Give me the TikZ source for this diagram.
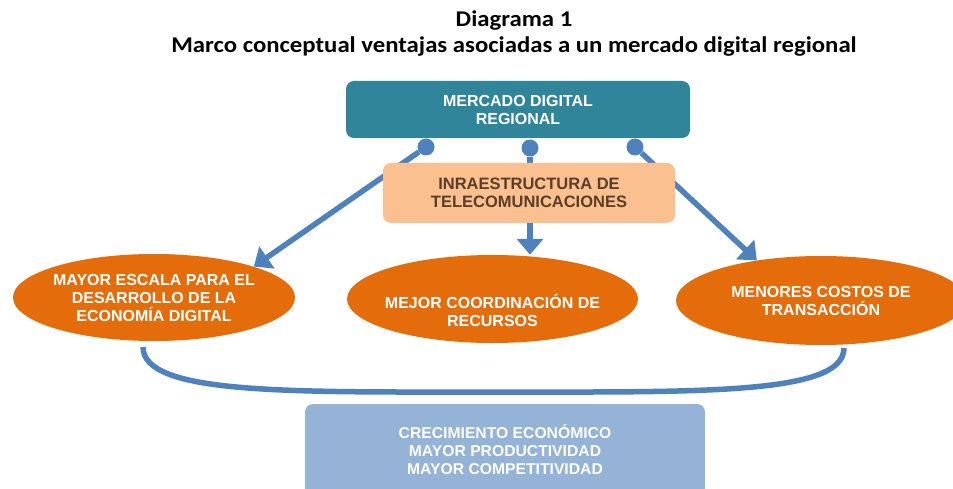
\documentclass[tikz,border=0pt]{standalone}
\usepackage{fontspec}
\setmainfont{Liberation Sans}
\newfontfamily\titlefont[FakeStretch=1.1]{Carlito}
\usetikzlibrary{arrows.meta,shapes.geometric,positioning}
\definecolor{tealbox}{RGB}{49,133,155}
\definecolor{lightorange}{RGB}{250,192,144}
\definecolor{brown1}{RGB}{90,62,40}
\definecolor{orange1}{RGB}{228,108,10}
\definecolor{blue1}{RGB}{79,129,189}
\definecolor{lightblue}{RGB}{149,179,215}
\tikzstyle{box}=[rectangle,rounded corners=8pt,inner sep=0pt,align=center,
  font=\bfseries\fontsize{16}{18}\selectfont]
\tikzstyle{market}=[box,fill=tealbox,text=white,minimum width=344pt,minimum height=57pt]
\tikzstyle{infra}=[box,fill=lightorange,text=brown1,minimum width=292pt,minimum height=60pt,
  font=\bfseries\fontsize{16.5}{18}\selectfont]
\tikzstyle{result}=[box,fill=lightblue,text=white,minimum width=400pt,minimum height=92pt,
  font=\bfseries\fontsize{15.7}{18}\selectfont]
\tikzstyle{goal}=[ellipse,fill=orange1,inner sep=0pt]
\tikzstyle{goaltxt}=[text=white,align=center,font=\bfseries\fontsize{16}{18}\selectfont]
\tikzstyle{dot}=[circle,fill=blue1,inner sep=0pt,minimum size=17pt]
\tikzstyle{link}=[-{Triangle[width=26pt,length=16pt]},blue1,line width=5.5pt]

\begin{document}
\begin{tikzpicture}[x=1pt,y=-1pt]
  \useasboundingbox (0,0) rectangle (953,489);

  \node[font=\titlefont\bfseries\fontsize{22.5}{26}\selectfont,align=center] (title) at (514,34)
    {Diagrama 1\\Marco conceptual ventajas asociadas a un mercado digital regional};

  \node[dot] (d1) at (426,147) {};
  \node[dot] (d2) at (530,148) {};
  \node[dot] (d3) at (635,147) {};
  \node[market] (mdr) at (518,109.5) {MERCADO DIGITAL\\REGIONAL};

  \node[goal,minimum width=282pt,minimum height=87pt,
    label={[goaltxt]center:MAYOR ESCALA PARA EL\\DESARROLLO DE LA\\ECONOMÍA DIGITAL}] (esc) at (154,297.5) {};
  \node[goal,minimum width=291pt,minimum height=88pt,
    label={[goaltxt,yshift=-11pt]center:MEJOR COORDINACIÓN DE\\RECURSOS}] (coord) at (492.5,299) {};
  \node[goal,minimum width=290pt,minimum height=89pt,
    label={[goaltxt]center:MENORES COSTOS DE\\TRANSACCIÓN}] (cost) at (821,300.5) {};

  \draw[link] (d1) -- (esc.north east);
  \draw[link] (d2) -- (d2 |- coord.north);
  \draw[link] (d3) -- (cost.148);

  \node[infra] (tel) at (529,193) {INRAESTRUCTURA DE\\TELECOMUNICACIONES};

  % llave inferior
  \coordinate (b1) at (143,347);
  \coordinate (b2) at (844,348);
  \draw[blue1,line width=5.5pt] (b1) .. controls (143,395) and (290,392) .. (493,392)
    .. controls (700,392) and (844,395) .. (b2);

  \node[result] (crec) at (505,450) {CRECIMIENTO ECONÓMICO\\MAYOR PRODUCTIVIDAD\\MAYOR COMPETITIVIDAD};
\end{tikzpicture}
\end{document}
